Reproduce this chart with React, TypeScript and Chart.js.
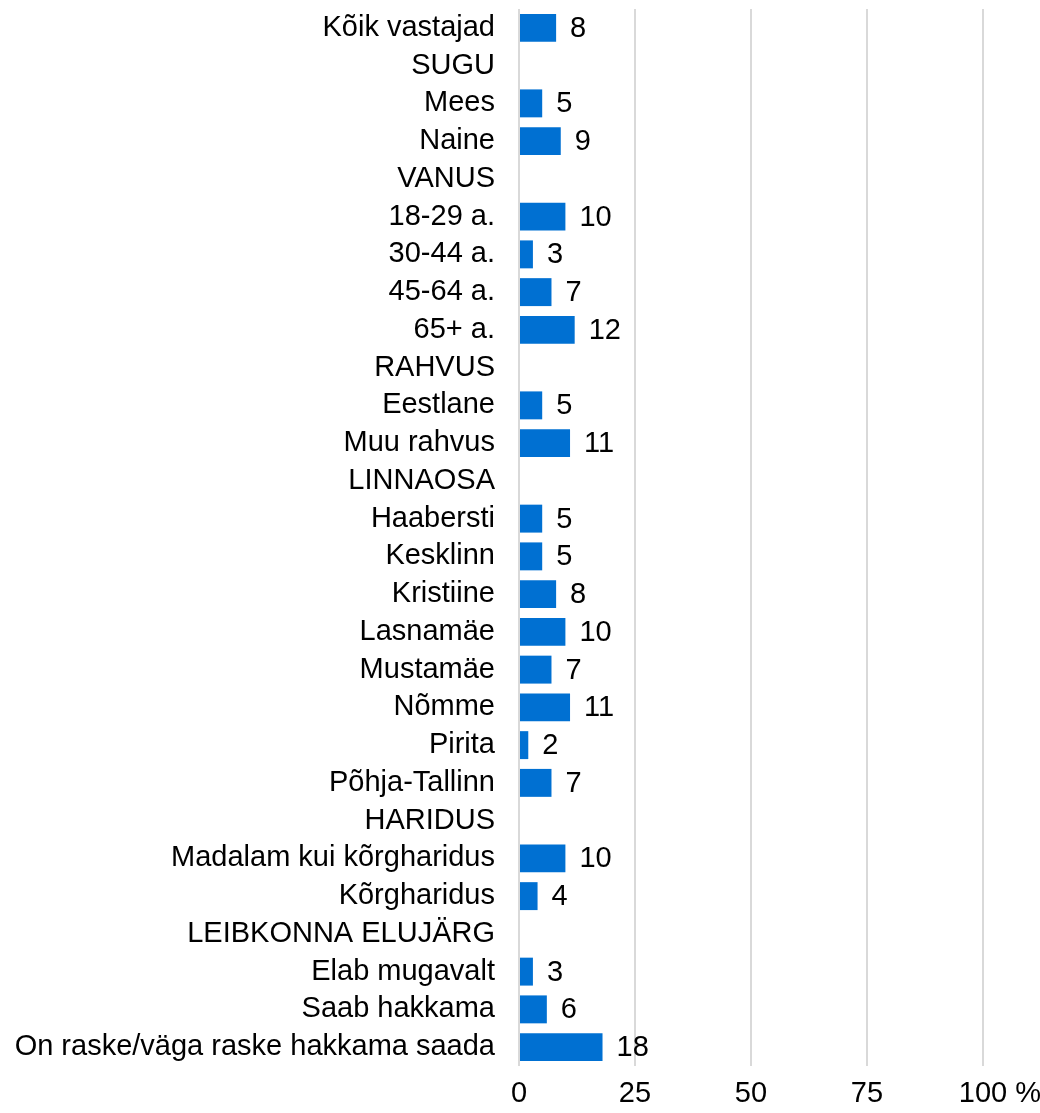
import React, { useEffect, useRef } from "react";
import { Chart, registerables } from "chart.js";

Chart.register(...registerables);

const categories: string[] = [
  "Kõik vastajad",
  "SUGU",
  "Mees",
  "Naine",
  "VANUS",
  "18-29 a.",
  "30-44 a.",
  "45-64 a.",
  "65+ a.",
  "RAHVUS",
  "Eestlane",
  "Muu rahvus",
  "LINNAOSA",
  "Haabersti",
  "Kesklinn",
  "Kristiine",
  "Lasnamäe",
  "Mustamäe",
  "Nõmme",
  "Pirita",
  "Põhja-Tallinn",
  "HARIDUS",
  "Madalam kui kõrgharidus",
  "Kõrgharidus",
  "LEIBKONNA ELUJÄRG",
  "Elab mugavalt",
  "Saab hakkama",
  "On raske/väga raske hakkama saada",
];

const values: (number | null)[] = [
  8, null, 5, 9, null, 10, 3, 7, 12, null, 5, 11, null, 5, 5, 8, 10, 7, 11, 2, 7,
  null, 10, 4, null, 3, 6, 18,
];

const xTicks: number[] = [0, 25, 50, 75, 100];

const FONT = "'Liberation Sans', Arial, sans-serif";
const FONT_SIZE = 29;
const X_TICK_PAD = 11;

const valueLabels = {
  id: "valueLabels",
  afterDatasetsDraw(chart: any) {
    const ctx = chart.ctx;
    const meta = chart.getDatasetMeta(0);
    ctx.save();
    ctx.font = `${FONT_SIZE}px ${FONT}`;
    ctx.fillStyle = "#000";
    ctx.textAlign = "left";
    ctx.textBaseline = "middle";
    meta.data.forEach((bar: any, i: number) => {
      const v = values[i];
      if (v === null || v === undefined) return;
      ctx.fillText(String(v), bar.x + 14, bar.y + 1);
    });
    ctx.restore();
  },
};

const percentSign = {
  id: "percentSign",
  afterDraw(chart: any) {
    const ctx = chart.ctx;
    const xs = chart.scales.x;
    const last = xTicks[xTicks.length - 1];
    const px = xs.getPixelForValue(last);
    ctx.save();
    ctx.font = `${FONT_SIZE}px ${FONT}`;
    ctx.fillStyle = "#000";
    const w = ctx.measureText(String(last)).width;
    const sw = ctx.measureText(" ").width;
    ctx.textAlign = "left";
    ctx.textBaseline = "middle";
    ctx.fillText(
      "%",
      px + w / 2 + sw,
      chart.chartArea.bottom + X_TICK_PAD + (FONT_SIZE * 1.2) / 2
    );
    ctx.restore();
  },
};

export default function App() {
  const canvasRef = useRef<HTMLCanvasElement | null>(null);

  useEffect(() => {
    if (!canvasRef.current) return;
    const chart = new Chart(canvasRef.current, {
      type: "bar",
      data: {
        labels: categories,
        datasets: [
          {
            data: values as any,
            backgroundColor: "#0070d2",
            borderWidth: 0,
            barPercentage: 0.74,
            categoryPercentage: 1,
          },
        ],
      },
      options: {
        indexAxis: "y",
        animation: false,
        responsive: true,
        maintainAspectRatio: false,
        layout: { padding: { top: 9, right: 57, bottom: 0, left: 0 } },
        plugins: {
          legend: { display: false },
          tooltip: { enabled: false },
        },
        scales: {
          x: {
            type: "linear",
            min: 0,
            max: 100,
            afterBuildTicks: (scale: any) => {
              scale.ticks = xTicks.map((v) => ({ value: v }));
            },
            afterFit: (scale: any) => {
              scale.height = 47;
              scale.paddingLeft = 0;
              scale.paddingRight = 0;
            },
            grid: {
              color: "#d9d9d9",
              lineWidth: 2,
              drawTicks: false,
            },
            border: { display: false },
            ticks: {
              color: "#000",
              padding: X_TICK_PAD,
              font: { family: FONT, size: FONT_SIZE },
              maxRotation: 0,
              callback: (v: any) => String(v),
            },
          },
          y: {
            afterFit: (scale: any) => {
              scale.width = 519;
              scale.paddingTop = 0;
              scale.paddingBottom = 0;
            },
            grid: { display: false, drawTicks: false },
            border: { display: false },
            ticks: {
              color: "#000",
              padding: 24,
              autoSkip: false,
              font: { family: FONT, size: FONT_SIZE },
            },
          },
        },
      },
      plugins: [valueLabels, percentSign],
    });
    return () => chart.destroy();
  }, []);

  return (
    <div
      style={{
        position: "absolute",
        left: 0,
        top: 0,
        width: 1040,
        height: 1113,
        background: "#fff",
      }}
    >
      <canvas ref={canvasRef} />
    </div>
  );
}
